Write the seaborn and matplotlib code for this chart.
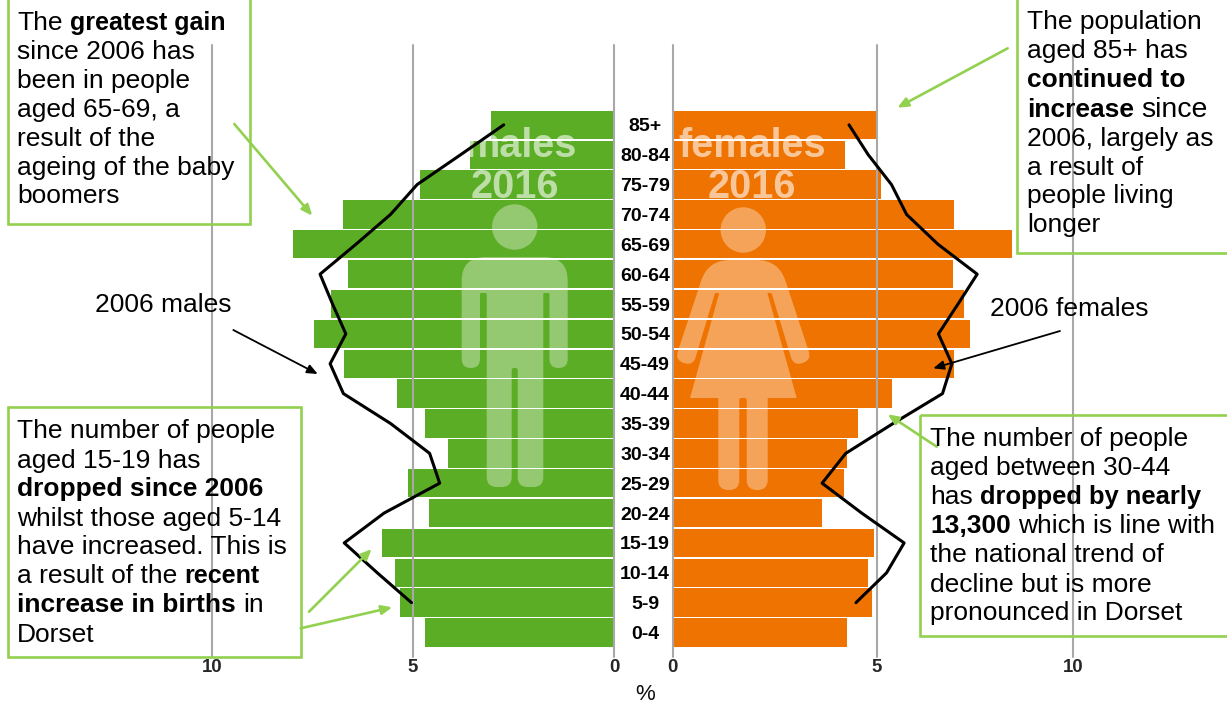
import numpy as np
import pandas as pd
import matplotlib
matplotlib.use("Agg")
import matplotlib.pyplot as plt
from matplotlib.path import Path
from matplotlib.patches import PathPatch, Circle, Rectangle, FancyArrowPatch
from matplotlib.transforms import Affine2D
import seaborn as sns

# ---- data (% of population) ----
age_groups = ["85+", "80-84", "75-79", "70-74", "65-69", "60-64", "55-59", "50-54", "45-49",
              "40-44", "35-39", "30-34", "25-29", "20-24", "15-19", "10-14", "5-9", "0-4"]
males_2016 = [3.06, 3.58, 4.84, 6.75, 7.97, 6.61, 7.03, 7.46, 6.71,
              5.39, 4.71, 4.13, 5.12, 4.61, 5.76, 5.45, 5.33, 4.71]
females_2016 = [5.03, 4.23, 5.11, 6.90, 8.31, 6.86, 7.13, 7.29, 6.90,
                5.37, 4.53, 4.27, 4.20, 3.67, 4.94, 4.78, 4.89, 4.27]
males_2006 = [2.75, 3.82, 4.90, 5.56, 6.42, 7.31, 7.00, 6.67, 7.06,
              6.73, 5.56, 4.59, 4.34, 5.72, 6.71, 5.89, 5.04]
females_2006 = [4.32, 4.79, 5.36, 5.73, 6.50, 7.46, 6.99, 6.51, 6.84,
                6.61, 5.40, 4.24, 3.66, 4.63, 5.67, 5.24, 4.49]
male_ticks = [10, 5, 0]
male_tick_labels = ["10", "5", "0"]
# the source's right-hand axis is not quite even: its "10" sits a little short
female_ticks = [0, 5, 9.8]
female_tick_labels = ["0", "5", "10"]

notes = [
    (17, [(30, [("The ", 0), ("greatest gain", 1, 18)]), (59, [("since 2006 has", 0)]),
          (87.7, [("been in people", 0)]), (116.7, [("aged 65-69, a", 0)]),
          (145.7, [("result of the", 0)]), (174.5, [("ageing of the baby", 0)]),
          (203, [("boomers", 0)])]),
    (1027, [(29, [("The population", 0)]), (58, [("aged 85+ has", 0)]),
            (87.3, [("continued to", 1)]), (116.7, [("increase", 1), (" since", 0, 20.5)]),
            (145.7, [("2006, largely as", 0)]), (175, [("a result of", 0)]),
            (203.3, [("people living", 0)]), (232, [("longer", 0)])]),
    (17, [(438.3, [("The number of people", 0)]), (468, [("aged 15-19 has", 0)]),
          (496, [("dropped since 2006", 1)]), (525.7, [("whilst those aged 5-14", 0)]),
          (554.3, [("have increased. This is", 0)]),
          (583.3, [("a result of the ", 0), ("recent", 1, 18)]),
          (612.3, [("increase in births", 1), (" in", 0)]), (641.7, [("Dorset", 0)])]),
    (930, [(446, [("The number of people", 0)]), (475.3, [("aged between 30-44", 0)]),
           (504, [("has ", 0), ("dropped by nearly", 1, 18.4)]),
           (533.3, [("13,300", 1), (" which is line with", 0)]),
           (562.3, [("the national trend of", 0)]), (591.7, [("decline but is more", 0)]),
           (620, [("pronounced in Dorset", 0)])]),
    (95, [(311.7, [("2006 males", 0)])]),
    (990, [(315.7, [("2006 females", 0)])]),
]

GREEN, ORANGE, BOX, GRID = "#5BAD26", "#EF7300", "#92D050", "#A8A8A8"
W, H = 1227, 704

sns.set_theme(style="white")
plt.rcParams["font.family"] = ["Liberation Sans", "DejaVu Sans"]

fig = plt.figure(figsize=(W / 100, H / 100), dpi=100, facecolor="white")
pix = Affine2D().scale(1 / W, -1 / H).translate(0, 1) + fig.transFigure


def axes_px(x0, x1, y0, y1):
    return fig.add_axes([x0 / W, 1 - y1 / H, (x1 - x0) / W, (y1 - y0) / H])


ax_m = axes_px(211.7, 614.5, 45, 657)
ax_f = axes_px(672.7, 1072.7, 45, 657)
df = pd.DataFrame({"age": age_groups, "m": males_2016, "f": females_2016})

sns.barplot(data=df, x="m", y="age", order=age_groups, color=GREEN, saturation=1,
            width=0.95, linewidth=0, ax=ax_m, zorder=1)
sns.barplot(data=df, x="f", y="age", order=age_groups, color=ORANGE, saturation=1,
            width=0.95, linewidth=0, ax=ax_f, zorder=1)
ypos = np.arange(len(males_2006))
sns.lineplot(x=males_2006, y=ypos, orient="y", sort=False, estimator=None, color="black",
             linewidth=2.2, ax=ax_m, zorder=5)
sns.lineplot(x=females_2006, y=ypos, orient="y", sort=False, estimator=None, color="black",
             linewidth=2.2, ax=ax_f, zorder=5)

for ax, xlim, ticks, labels in ((ax_m, (10, 0), male_ticks, male_tick_labels),
                                (ax_f, (0, 9.79), female_ticks, female_tick_labels)):
    ax.set_xlim(*xlim)
    ax.set_ylim(17.82, -2.674)
    ax.set_xticks(ticks)
    ax.set_xticklabels(labels, fontsize=13.4, fontweight="bold", color="#262626")
    ax.set_xlabel("")
    ax.set_ylabel("")
    ax.patch.set_alpha(0)
    ax.set_axisbelow(False)
    ax.grid(axis="x", color=GRID, linewidth=1.5)
    ax.grid(axis="y", visible=False)
    for ln in ax.get_xgridlines():
        ln.set_clip_on(False)
    ax.tick_params(axis="x", length=0, pad=1.5)
    sns.despine(ax=ax, left=True, bottom=True)

ax_f.set_yticks([])
ax_m.yaxis.tick_right()
ax_m.set_yticks(np.arange(len(age_groups)))
ax_m.set_yticklabels(age_groups, fontsize=14, fontweight="bold", color="#000000")
ax_m.tick_params(axis="y", length=0, pad=22)
for lab in ax_m.get_yticklabels():
    lab.set_ha("center")


def rounded(pts):
    verts, codes = [], []
    n = len(pts)
    for i, (x, y, r) in enumerate(pts):
        c = np.array([x, y], float)
        a = np.array(pts[i - 1][:2], float)
        b = np.array(pts[(i + 1) % n][:2], float)
        ra = min(r, np.linalg.norm(a - c) / 2)
        rb = min(r, np.linalg.norm(b - c) / 2)
        p0 = c + (a - c) / np.linalg.norm(a - c) * ra
        p1 = c + (b - c) / np.linalg.norm(b - c) * rb
        verts += [p0, c, p1]
        codes += [Path.LINETO if i else Path.MOVETO, Path.CURVE3, Path.CURVE3]
    verts.append(verts[0])
    codes.append(Path.CLOSEPOLY)
    return Path(verts, codes)


man = [(461.7, 257, 24), (567.7, 257, 24), (567.7, 368, 9), (549.5, 368, 9), (549.5, 293, 1),
       (543.3, 293, 1), (543.3, 487, 10), (517.7, 487, 10), (517.7, 368, 2), (511.7, 368, 2),
       (511.7, 487, 10), (486.7, 487, 10), (486.7, 293, 1), (480, 293, 1), (480, 368, 9),
       (461.7, 368, 9)]
woman = [(708, 260, 22), (778.6, 260, 22), (811.6, 360, 9), (793.6, 366, 9),
         (771.6, 293, 1), (767.3, 293, 1), (796.7, 398, 0.5), (767.7, 398, 0.5), (767.7, 490, 10),
         (746.7, 490, 10), (746.7, 398, 2), (739.3, 398, 2), (739.3, 490, 10), (718.3, 490, 10),
         (718.3, 398, 0.5), (690, 398, 0.5), (719.3, 293, 1), (715, 293, 1), (693, 366, 9),
         (675, 360, 9)]
for ax, outline, head in ((ax_m, man, (514.7, 227)), (ax_f, woman, (743.3, 230))):
    ax.add_patch(PathPatch(rounded(outline), transform=pix, fc="white", ec="none", alpha=0.35,
                           clip_on=False, zorder=2.6))
    ax.add_patch(Circle(head, 22.7, transform=pix, fc="white", ec="none", alpha=0.35,
                        clip_on=False, zorder=2.6))

for ax, cx, word, cx2 in ((ax_m, 520, "males", 515), (ax_f, 752, "females", 752)):
    ax.text(cx, 157, word, transform=pix, fontsize=28.5, fontweight="bold", color="white",
            alpha=0.6, ha="center", va="baseline", zorder=2.7, clip_on=False)
    ax.text(cx2, 198, "2016", transform=pix, fontsize=28.5, fontweight="bold", color="white",
            alpha=0.6, ha="center", va="baseline", zorder=2.7, clip_on=False)

ov = fig.add_axes([0, 0, 1, 1], zorder=10)
ov.set_xlim(0, W)
ov.set_ylim(H, 0)
ov.axis("off")

for x, y, w, h in ((7.5, -10, 242.5, 233.5), (1017, -10, 230, 263),
                   (7.5, 406.5, 293, 250.5), (920, 415, 320, 221)):
    ov.add_patch(Rectangle((x, y), w, h, fc="none", ec=BOX, lw=1.9))

for (x0, y0), (x1, y1), col in (((234.3, 124), (312.3, 215.7), BOX),
                                ((1007.7, 48.3), (897.3, 107.7), BOX),
                                ((309, 611.7), (371.7, 549), BOX),
                                ((300.7, 628.3), (392.3, 607.3), BOX),
                                ((936.7, 446.7), (887.7, 414.3), BOX),
                                ((233.3, 330), (317.7, 374), "black"),
                                ((1060, 331), (933.3, 368.3), "black")):
    lw = 1.9 if col == BOX else 1.3
    ov.add_patch(FancyArrowPatch((x0, y0), (x1, y1), arrowstyle="-|>,head_length=0.7,head_width=0.3",
                                 mutation_scale=9, color=col, lw=lw, shrinkA=0, shrinkB=0))

rend = fig.canvas.get_renderer()
SPACE = 0.278 * 19 * 100 / 72
for left, lines in notes:
    for base, runs in lines:
        x = left
        for run in runs:
            s, bold = run[0], run[1]
            size = run[2] if len(run) > 2 else 19
            x += SPACE * (len(s) - len(s.lstrip()))
            t = ov.text(x, base, s.strip(), fontsize=size, fontweight="bold" if bold else "normal",
                        color="black", ha="left", va="baseline")
            x += t.get_window_extent(rend).width + SPACE * (len(s) - len(s.rstrip()))

ov.text(645, 694, "%", fontsize=16, color="#111111", ha="center", va="center")

fig.savefig("out.png", dpi=100)
